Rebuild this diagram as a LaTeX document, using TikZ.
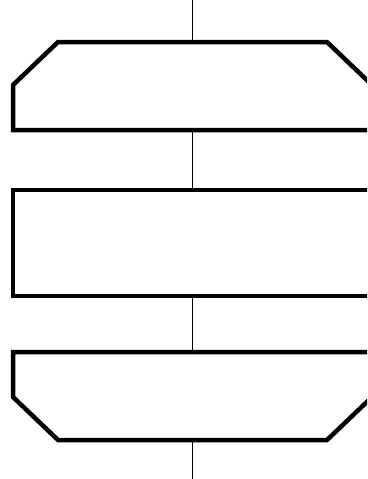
\documentclass[tikz,border=0pt]{standalone}
\begin{document}
\begin{tikzpicture}[x=1pt, y=-1pt,
  block/.style={minimum width=359pt, minimum height=88pt, inner sep=0pt, outer sep=0pt},
  outline/.style={draw, line width=4.5pt, line join=miter},
  flow/.style={draw, line width=1pt}
]
\useasboundingbox (0,0) rectangle (367,479);
\clip (0,0) rectangle (367,479);
% blocks
\node[block] (start) at (192.5, 86) {};
\node[block, minimum height=106pt] (body) at (192.5, 243) {};
\node[block] (finish) at (192.5, 396) {};
% outlines
\draw[outline] ([xshift=45pt]start.north west) -- ([xshift=-45pt]start.north east)
  -- ([yshift=-43pt]start.north east) -- (start.south east) -- (start.south west)
  -- ([yshift=-43pt]start.north west) -- cycle;
\draw[outline] (body.north west) rectangle (body.south east);
\draw[outline] (finish.north west) -- (finish.north east) -- ([yshift=43pt]finish.south east)
  -- ([xshift=-45pt]finish.south east) -- ([xshift=45pt]finish.south west)
  -- ([yshift=43pt]finish.south west) -- cycle;
% loose ends
\coordinate (in) at (192.5, 0);
\coordinate (out) at (192.5, 479);
% flow lines
\draw[flow] (in) -- (start.north);
\draw[flow] (start.south) -- (body.north);
\draw[flow] (body.south) -- (finish.north);
\draw[flow] (finish.south) -- (out);
\end{tikzpicture}
\end{document}
